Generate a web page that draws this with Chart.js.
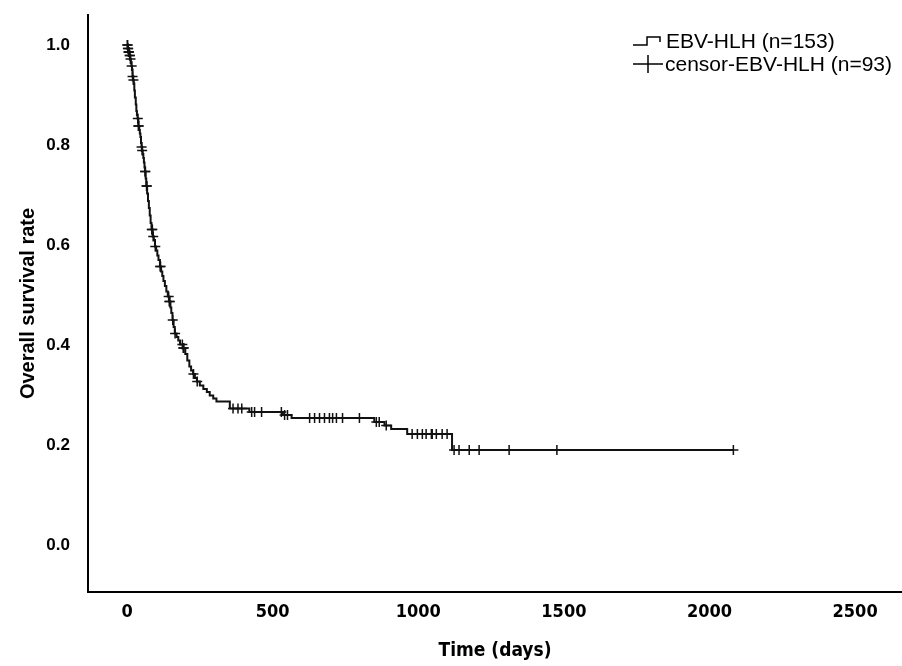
<!DOCTYPE html>
<html>
<head>
<meta charset="utf-8">
<script src="https://cdn.jsdelivr.net/npm/chart.js@4.4.1/dist/chart.umd.min.js"></script>
<style>
    html, body { margin: 0; padding: 0; background: #fff; }
    #wrap { width: 902px; height: 666px; }
</style>
</head>
<body>
<div id="wrap"><canvas id="km"></canvas></div>
<script>
// Kaplan-Meier overall survival, EBV-HLH

// Event steps (days, survival after the drop)
const eventDays = [
    0, 3, 5, 8, 11, 13, 15, 17, 19, 21, 23, 25, 27, 30, 32, 34, 36, 39, 42, 44,
    46, 48, 50, 52, 54, 56, 58, 60, 62, 64, 66, 69, 72, 75, 78, 81, 84, 88, 92, 96,
    100, 104, 108, 113, 117, 121, 125, 130, 135, 140, 145, 149, 152, 156, 160, 164, 170, 176, 182, 193,
    200, 207, 214, 220, 227, 233, 240, 250, 262, 274, 284, 296, 307, 353, 420, 535, 565, 849, 884, 907,
    962, 1116, 2082
];
const eventSurvival = [
    1.000, 0.993, 0.986, 0.979, 0.972, 0.965, 0.958, 0.951, 0.937, 0.930, 0.923, 0.909, 0.895, 0.881, 0.868, 0.860, 0.853, 0.838, 0.830, 0.823,
    0.816, 0.804, 0.796, 0.789, 0.782, 0.774, 0.765, 0.755, 0.747, 0.733, 0.718, 0.703, 0.688, 0.674, 0.659, 0.644, 0.631, 0.617, 0.610, 0.597,
    0.589, 0.579, 0.570, 0.557, 0.547, 0.538, 0.528, 0.518, 0.507, 0.497, 0.487, 0.475, 0.464, 0.450, 0.436, 0.423, 0.416, 0.409, 0.401, 0.394,
    0.382, 0.369, 0.357, 0.349, 0.342, 0.334, 0.327, 0.319, 0.312, 0.306, 0.299, 0.293, 0.287, 0.273, 0.266, 0.260, 0.254, 0.246, 0.239, 0.232,
    0.222, 0.190, 0.190
];

// Censored cases (days, survival at that time)
const censorDays = [
    1, 2, 3, 4, 5, 6, 7, 9, 10, 12, 16, 19, 22,
    37, 39, 40, 50, 52, 62, 63, 67, 68,
    85, 87, 90, 97, 114, 115, 143, 145, 147, 157, 165,
    190, 193, 195, 228, 241,
    364, 381, 394, 428, 438, 462, 530, 541, 551,
    627, 644, 661, 678, 695, 706, 719, 740, 798,
    856, 866, 890,
    979, 997, 1014, 1027, 1045, 1048, 1062, 1082, 1099,
    1123, 1140, 1175, 1209, 1312, 1476, 2082
];
const censorSurvival = [
    1.000, 1.000, 0.993, 0.993, 0.986, 0.986, 0.986, 0.979, 0.979, 0.972, 0.958, 0.937, 0.930,
    0.853, 0.838, 0.838, 0.796, 0.789, 0.747, 0.747, 0.718, 0.718,
    0.631, 0.631, 0.617, 0.597, 0.557, 0.557, 0.497, 0.487, 0.487, 0.450, 0.423,
    0.401, 0.394, 0.394, 0.342, 0.327,
    0.273, 0.273, 0.273, 0.266, 0.266, 0.266, 0.266, 0.260, 0.260,
    0.254, 0.254, 0.254, 0.254, 0.254, 0.254, 0.254, 0.254, 0.254,
    0.246, 0.246, 0.239,
    0.222, 0.222, 0.222, 0.222, 0.222, 0.222, 0.222, 0.222, 0.222,
    0.190, 0.190, 0.190, 0.190, 0.190, 0.190, 0.190
];

const xTicks = [0, 500, 1000, 1500, 2000, 2500];
const yTicks = [0, 0.2, 0.4, 0.6, 0.8, 1.0];
const legendLabels = ['EBV-HLH (n=153)', 'censor-EBV-HLH (n=93)'];

const FONT = '"Liberation Sans", Arial, sans-serif';
const NARROW = '"DejaVu Sans Condensed", "Liberation Sans", Arial, sans-serif';

// Legend drawn in the top right corner, like the SPSS output
const legendPlugin = {
    id: 'kmLegend',
    afterDraw(chart) {
        const ctx = chart.ctx;
        ctx.save();
        ctx.strokeStyle = '#000';
        ctx.lineWidth = 1.5;

        // step icon
        ctx.beginPath();
        ctx.moveTo(633, 45);
        ctx.lineTo(647, 45);
        ctx.lineTo(647, 37);
        ctx.lineTo(660, 37);
        ctx.lineTo(660, 42);
        ctx.stroke();

        // censor icon
        ctx.beginPath();
        ctx.moveTo(633, 64);
        ctx.lineTo(663, 64);
        ctx.moveTo(648, 55);
        ctx.lineTo(648, 73);
        ctx.stroke();

        ctx.fillStyle = '#000';
        ctx.font = '21px ' + FONT;
        ctx.textBaseline = 'alphabetic';
        ctx.fillText(legendLabels[0], 666, 48);
        ctx.fillText(legendLabels[1], 665, 71);
        ctx.restore();
    }
};

const curvePoints = eventDays.map((d, i) => ({ x: d, y: eventSurvival[i] }));
const censorPoints = censorDays.map((d, i) => ({ x: d, y: censorSurvival[i] }));

Chart.defaults.font.family = FONT;
Chart.defaults.color = '#000';

new Chart(document.getElementById('km'), {
    type: 'scatter',
    data: {
        datasets: [
            {
                label: legendLabels[0],
                data: curvePoints,
                showLine: true,
                stepped: true,
                borderColor: '#111',
                borderWidth: 2,
                pointRadius: 0,
                fill: false
            },
            {
                label: legendLabels[1],
                data: censorPoints,
                pointStyle: 'cross',
                pointRadius: 5,
                borderColor: '#111',
                borderWidth: 1.5,
                showLine: false
            }
        ]
    },
    options: {
        responsive: true,
        maintainAspectRatio: false,
        animation: false,
        layout: { autoPadding: false, padding: { top: 15, right: 0, left: 0, bottom: 0 } },
        plugins: {
            legend: { display: false },
            tooltip: { enabled: false }
        },
        scales: {
            x: {
                type: 'linear',
                min: -134,
                max: 2661,
                afterBuildTicks: s => { s.ticks = xTicks.map(v => ({ value: v })); },
                afterFit: s => { s.height = 74; s.paddingLeft = 0; s.paddingRight = 0; },
                grid: { display: false, drawTicks: false },
                border: { display: true, color: '#000', width: 2 },
                ticks: {
                    padding: 10,
                    font: { family: NARROW, size: 18, weight: 'bold' },
                    callback: v => String(v)
                },
                title: {
                    display: true,
                    text: 'Time (days)',
                    font: { family: NARROW, size: 19, weight: 'bold' },
                    padding: { top: 0, bottom: 4 }
                }
            },
            y: {
                type: 'linear',
                min: -0.094,
                max: 1.06,
                afterBuildTicks: s => { s.ticks = yTicks.map(v => ({ value: v })); },
                afterFit: s => { s.width = 88; s.paddingTop = 0; s.paddingBottom = 0; },
                grid: { display: false, drawTicks: false },
                border: { display: true, color: '#000', width: 2 },
                ticks: {
                    padding: 18,
                    font: { size: 17, weight: 'bold' },
                    callback: v => Number(v).toFixed(1)
                },
                title: {
                    display: true,
                    text: 'Overall survival rate',
                    font: { size: 20, weight: 'bold' },
                    padding: { top: 16, bottom: 0 }
                }
            }
        }
    },
    plugins: [legendPlugin]
});
</script>
</body>
</html>
